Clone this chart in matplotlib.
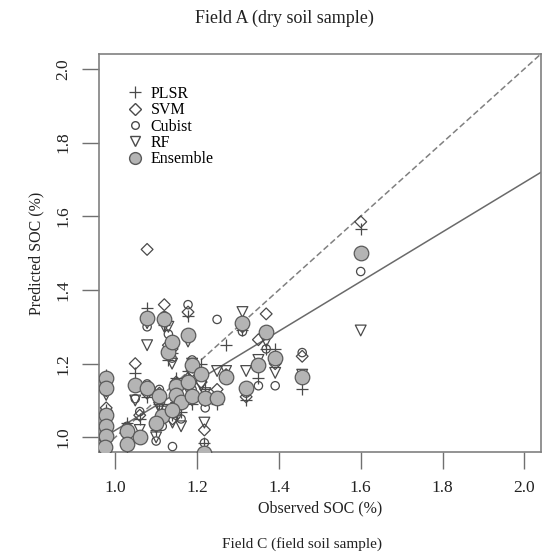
import matplotlib

matplotlib.use("Agg")
import matplotlib.pyplot as plt
import numpy as np

# ---------------------------------------------------------------------------
# Data (observed vs predicted SOC, %)
# ---------------------------------------------------------------------------

observed = [
    0.978, 0.978, 0.978, 0.978, 0.978, 0.975, 1.029, 1.029, 1.049, 1.078,
    1.078, 1.120, 1.130, 1.139, 1.178, 1.108, 1.115, 1.149, 1.149, 1.161,
    1.178, 1.188, 1.188, 1.210, 1.220, 1.249, 1.271, 1.311, 1.320, 1.350,
    1.369, 1.391, 1.457, 1.600, 1.218, 1.100, 1.140, 1.060,
]
pred_plsr = [
    1.170, 1.150, 1.075, 1.030, 1.010, 0.965, 1.040, 0.970, 1.175, 1.110,
    1.350, 1.305, 1.210, 1.230, 1.330, 1.090, 1.090, 1.160, 1.100, 1.070,
    1.180, 1.190, 1.090, 1.200, 1.130, 1.090, 1.250, 1.290, 1.100, 1.160,
    1.240, 1.240, 1.130, 1.565, 0.985, 1.020, 1.060, 1.050,
]
pred_svm = [
    1.150, 1.140, 1.080, 1.040, 0.995, 0.970, 1.010, 0.975, 1.200, 1.120,
    1.510, 1.360, 1.250, 1.240, 1.340, 1.120, 1.050, 1.150, 1.110, 1.090,
    1.160, 1.180, 1.110, 1.150, 1.100, 1.130, 1.170, 1.300, 1.110, 1.265,
    1.335, 1.200, 1.220, 1.585, 1.020, 1.030, 1.050, 1.060,
]
pred_cubist = [
    1.160, 1.125, 1.050, 1.020, 0.990, 0.965, 1.030, 0.990, 1.105, 1.145,
    1.300, 1.330, 1.280, 1.215, 1.360, 1.130, 1.030, 1.090, 1.060, 1.050,
    1.140, 1.210, 1.130, 1.170, 1.080, 1.320, 1.160, 1.287, 1.120, 1.140,
    1.240, 1.140, 1.230, 1.450, 0.985, 0.990, 0.975, 1.070,
]
pred_rf = [
    1.125, 1.115, 1.060, 1.035, 1.000, 0.980, 0.995, 0.970, 1.100, 1.250,
    1.310, 1.300, 1.300, 1.200, 1.260, 1.080, 1.070, 1.120, 1.080, 1.030,
    1.130, 1.200, 1.100, 1.140, 1.120, 1.180, 1.180, 1.340, 1.180, 1.210,
    1.260, 1.175, 1.170, 1.290, 1.040, 1.000, 1.040, 1.020,
]
pred_ensemble = [
    1.160, 1.135, 1.060, 1.030, 1.003, 0.975, 1.016, 0.981, 1.143, 1.135,
    1.324, 1.322, 1.232, 1.260, 1.278, 1.111, 1.057, 1.138, 1.116, 1.095,
    1.151, 1.197, 1.111, 1.173, 1.108, 1.108, 1.165, 1.311, 1.135, 1.195,
    1.286, 1.214, 1.165, 1.500, 0.958, 1.040, 1.075, 1.000,
]

fit_intercept = 1.019  # fitted line value at observed = 1.0
fit_slope = 0.673

model_names = ["PLSR", "SVM", "Cubist", "RF", "Ensemble"]

plt.rcParams["font.family"] = ["Liberation Serif", "DejaVu Serif"]

fig = plt.figure(figsize=(5.49, 5.52), dpi=100)
ax = fig.add_axes([0.180, 0.181, 0.805, 0.721])

ink = "#4a4a4a"
x = np.array(observed)

ax.scatter(x, pred_plsr, marker="+", s=75, color=ink, linewidths=0.9, zorder=3)
ax.scatter(x, pred_svm, marker="D", s=36, facecolors="none", edgecolors=ink,
           linewidths=0.9, zorder=3)
ax.scatter(x, pred_cubist, marker="o", s=36, facecolors="none", edgecolors=ink,
           linewidths=0.9, zorder=3)
ax.scatter(x, pred_rf, marker="v", s=60, facecolors="none", edgecolors=ink,
           linewidths=0.9, zorder=3)
ax.scatter(x, pred_ensemble, marker="o", s=110, facecolors="#b4b4b4",
           edgecolors="#5a5a5a", linewidths=0.9, zorder=4)

lims = np.array([0.96, 2.04])
ax.plot(lims, lims, linestyle=(0, (4, 2)), color="#808080", linewidth=1.1, zorder=2)
ax.plot(lims, fit_intercept + fit_slope * (lims - 1.0), color="#6a6a6a",
        linewidth=1.1, zorder=2)

ax.set_xlim(*lims)
ax.set_ylim(*lims)
ticks = [1.0, 1.2, 1.4, 1.6, 1.8, 2.0]
ax.set_xticks(ticks)
ax.set_yticks(ticks)
ax.set_xticklabels([f"{t:.1f}" for t in ticks])
ax.set_yticklabels([f"{t:.1f}" for t in ticks], rotation=90, va="center")
ax.tick_params(direction="out", length=12, width=1.0, color="#707070",
               labelsize=12.5, pad=8, labelcolor="#222222")
for side in ax.spines.values():
    side.set_color("#808080")
    side.set_linewidth(1.2)

ax.set_xlabel("Observed SOC (%)", fontsize=11.5, labelpad=3, color="#222222")
ax.set_ylabel("Predicted SOC (%)", fontsize=11.5, labelpad=8, color="#222222")

# legend built from the same marker styles
handles = [
    plt.Line2D([], [], marker="+", linestyle="none", color=ink, markersize=9,
               markeredgewidth=0.9),
    plt.Line2D([], [], marker="D", linestyle="none", markerfacecolor="none",
               markeredgecolor=ink, markersize=6),
    plt.Line2D([], [], marker="o", linestyle="none", markerfacecolor="none",
               markeredgecolor=ink, markersize=5.5),
    plt.Line2D([], [], marker="v", linestyle="none", markerfacecolor="none",
               markeredgecolor=ink, markersize=7),
    plt.Line2D([], [], marker="o", linestyle="none", markerfacecolor="#b4b4b4",
               markeredgecolor="#5a5a5a", markersize=8.5),
]
ax.legend(handles, model_names, loc="upper left", bbox_to_anchor=(0.045, 0.94),
          frameon=False, fontsize=11.5, handlelength=1.0, handletextpad=0.5,
          labelspacing=0.02, borderpad=0)

fig.text(0.519, 0.966, "Field A (dry soil sample)", ha="center", va="center",
         fontsize=13, color="#222222")
fig.text(0.55, 0.001, "Field C (field soil sample)", ha="center", va="bottom",
         fontsize=11, color="#222222")

fig.savefig("out.png", dpi=100)
